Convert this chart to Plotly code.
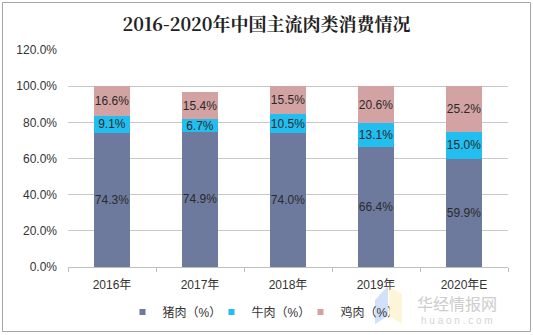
import plotly.graph_objects as go

years = ["2016年", "2017年", "2018年", "2019年", "2020年E"]
pork = [74.3, 74.9, 74.0, 66.4, 59.9]
beef = [9.1, 6.7, 10.5, 13.1, 15.0]
chicken = [16.6, 15.4, 15.5, 20.6, 25.2]
series_names = ["猪肉（%）", "牛肉（%）", "鸡肉（%）"]
y_ticks = [0, 20, 40, 60, 80, 100, 120]
y_tick_labels = ["0.0%", "20.0%", "40.0%", "60.0%", "80.0%", "100.0%", "120.0%"]

colors = ["#6D7A9E", "#22BEEF", "#D3A3A3"]
font_main = "Liberation Sans, Arial, Noto Sans CJK SC"

fig = go.Figure()
for name, vals, col in zip(series_names, [pork, beef, chicken], colors):
    fig.add_trace(go.Bar(
        x=years, y=vals, name=name, showlegend=False,
        marker=dict(color=col, line=dict(width=0)),
        text=[f"{v:.1f}%" for v in vals],
        textposition="inside", insidetextanchor="middle",
        textfont=dict(family=font_main, size=12, color="#2a2a2a"),
        textangle=0, constraintext="none",
    ))
# legend entries with small square markers
for name, col in zip(series_names, colors):
    fig.add_trace(go.Scatter(
        x=[None], y=[None], mode="markers", name=name,
        marker=dict(symbol="square", size=6, color=col),
    ))

L, R, T, B = 68, 25, 50, 68
W, H = 533, 335
pw, ph = W - L - R, H - T - B

def px(x):
    return (x - L) / pw

def py(y):
    return (H - B - y) / ph

fig.update_layout(
    width=W, height=H,
    margin=dict(l=L, r=R, t=T, b=B, autoexpand=False),
    barmode="stack", bargap=0.59,
    paper_bgcolor="white", plot_bgcolor="white",
    font=dict(family=font_main, size=12, color="#333333"),
    title=dict(text="<b>2016-2020年中国主流肉类消费情况</b>",
               x=0.5, xanchor="center", y=1 - 25 / H, yanchor="middle",
               font=dict(family="Noto Serif CJK SC, Noto Sans CJK SC", size=18, color="#222222")),
    showlegend=True,
    legend=dict(orientation="h", xref="container", yref="container",
                x=256 / W, xanchor="center", y=1 - 312 / H, yanchor="middle",
                font=dict(size=12, color="#333333"), itemwidth=30, traceorder="normal",
                entrywidth=44, entrywidthmode="pixels",
                bgcolor="rgba(0,0,0,0)"),
    xaxis=dict(showgrid=False, showline=True, linecolor="#bfbfbf", linewidth=1,
               ticks="outside", tickson="boundaries", ticklen=4, tickcolor="#bfbfbf",
               tickfont=dict(size=12, color="#333333"), ticklabelstandoff=7),
    yaxis=dict(range=[0, 120], tickvals=y_ticks, ticktext=y_tick_labels,
               showgrid=True, gridcolor="#c8c8c8", gridwidth=1, zeroline=False,
               showline=False, tickfont=dict(size=12, color="#333333"), ticks="",
               ticklabelstandoff=10),
    shapes=[
        dict(type="rect", xref="paper", yref="paper",
             x0=px(2.5), x1=px(530.5), y0=py(331.5), y1=py(2.5),
             line=dict(color="#a6a6a6", width=1), fillcolor="rgba(0,0,0,0)", layer="below"),
        dict(type="path", xref="paper", yref="paper",
             path=f"M {px(375)} {py(300)} L {px(388)} {py(286)} L {px(388)} {py(316)} L {px(375)} {py(324)} Z",
             line=dict(width=0), fillcolor="rgba(120,170,235,0.35)", layer="above"),
        dict(type="path", xref="paper", yref="paper",
             path=f"M {px(389)} {py(286)} L {px(402)} {py(294)} L {px(402)} {py(324)} L {px(389)} {py(316)} Z",
             line=dict(width=0), fillcolor="rgba(250,225,140,0.35)", layer="above"),
    ],
    annotations=[
        dict(text="华经情报网", xref="paper", yref="paper", x=px(457), y=py(303),
             xanchor="center", yanchor="middle",
             showarrow=False, font=dict(family="Noto Sans CJK SC", size=16, color="#cdcdcd")),
        dict(text="h u a o n . c o m", xref="paper", yref="paper", x=px(457), y=py(320),
             xanchor="center", yanchor="middle",
             showarrow=False, font=dict(family="Liberation Sans", size=10, color="#d4d4d4")),
    ],
)

fig.write_html("out.html")
